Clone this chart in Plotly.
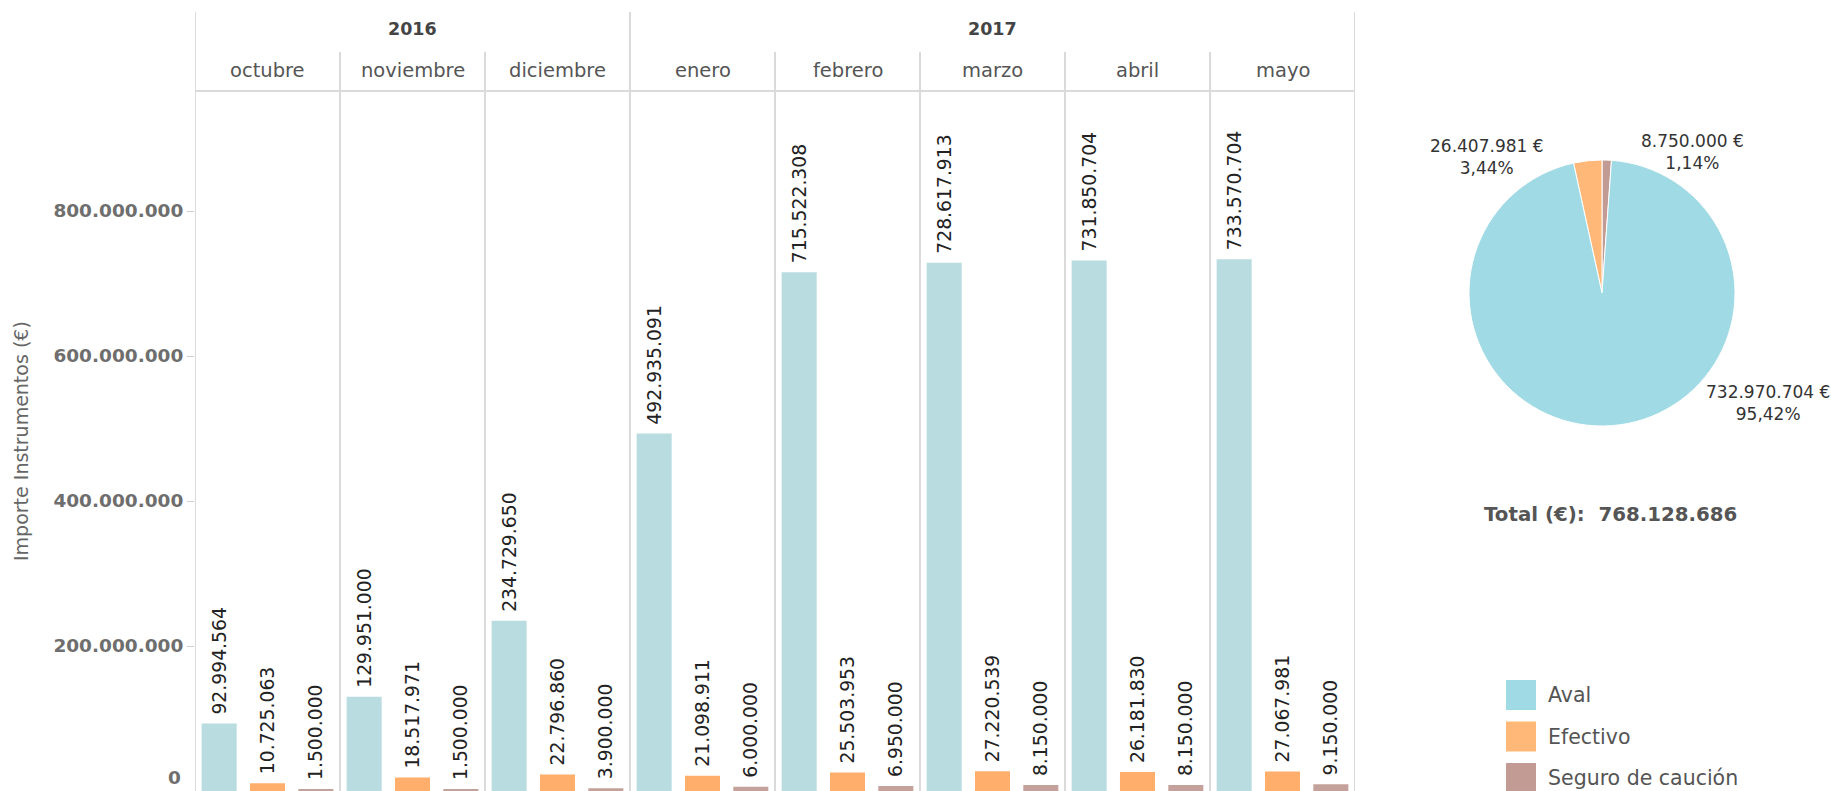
import plotly.graph_objects as go

# ---------------- data ----------------
months = ["octubre", "noviembre", "diciembre", "enero", "febrero", "marzo", "abril", "mayo"]
years = ["2016", "2016", "2016", "2017", "2017", "2017", "2017", "2017"]
series_names = ["Aval", "Efectivo", "Seguro de caución"]
aval = [92994564, 129951000, 234729650, 492935091, 715522308, 728617913, 731850704, 733570704]
efectivo = [10725063, 18517971, 22796860, 21098911, 25503953, 27220539, 26181830, 27067981]
seguro = [1500000, 1500000, 3900000, 6000000, 6950000, 8150000, 8150000, 9150000]
y_ticks = [200000000, 400000000, 600000000, 800000000]

pie_labels = ["Seguro de caución", "Efectivo", "Aval"]
pie_values = [8750000, 26407981, 732970704]
total_value = 768128686

# ---------------- style ----------------
W, H = 1831, 791
FONT = "DejaVu Sans"
bar_colors = ["#b9dce0", "#ffae6c", "#c4a19a"]
pie_colors = {"Aval": "#a0dae4", "Efectivo": "#ffb877", "Seguro de caución": "#c29c94"}
line_col = "#dadada"

# pixel helpers (layout positions only)
def px(x):
    return x / W

def py(y):
    return (H - y) / H

plot_left, plot_right, plot_top, plot_bottom = 195, 1355, 91, 791
px_per_unit = 0.725e-6
y_top = (plot_bottom - plot_top) / px_per_unit

def fmt(v):
    return f"{v:,}".replace(",", ".")

fig = go.Figure()
for name, vals, col in zip(series_names, [aval, efectivo, seguro], bar_colors):
    fig.add_trace(go.Bar(
        x=months, y=vals, name=name, marker=dict(color=col, line=dict(width=0)),
        text=["\u00a0" + fmt(v) for v in vals], textposition="outside", textangle=-90,
        constraintext="none", cliponaxis=False,
        textfont=dict(family=FONT, size=18.8, color="#222222"),
        showlegend=False, hoverinfo="skip",
    ))

fig.add_trace(go.Pie(
    labels=pie_labels, values=pie_values, sort=False, direction="counterclockwise",
    rotation=0, textinfo="none", showlegend=False, hoverinfo="skip",
    marker=dict(colors=[pie_colors[l] for l in pie_labels], line=dict(color="white", width=1)),
    domain=dict(x=[px(1469), px(1735)], y=[py(426), py(160)]),
))

fig.update_layout(
    width=W, height=H, template="none",
    margin=dict(l=0, r=0, t=0, b=0),
    paper_bgcolor="white", plot_bgcolor="white",
    separators=",.",
    barmode="group", bargap=0.0, bargroupgap=0.275,
    showlegend=False,
    xaxis=dict(domain=[px(plot_left), px(plot_right)], range=[-0.5, len(months) - 0.5],
               showticklabels=False, showgrid=False, zeroline=False, showline=False,
               ticks="", automargin=False),
    yaxis=dict(domain=[0, py(plot_top)], range=[0, y_top], tickvals=y_ticks,
               tickformat=",d", showgrid=False, zeroline=False, showline=False,
               ticks="outside", ticklen=7, tickcolor="#d0d0d0", tickwidth=1,
               tickfont=dict(family=FONT, size=18.5, color="#6e6e6e", weight="bold"),
               automargin=False),
    font=dict(family=FONT),
)

shapes = []
annotations = []

def ann(**kw):
    kw.setdefault("showarrow", False)
    kw.setdefault("xanchor", "center")
    kw.setdefault("yanchor", "middle")
    annotations.append(kw)

# separators
for i in range(len(months) + 1):
    xb = i - 0.5
    year_boundary = (i == 0 or i == len(months) or years[i] != years[i - 1])
    top = py(12) if year_boundary else py(52)
    shapes.append(dict(type="line", xref="x", yref="paper", x0=xb, x1=xb, y0=0, y1=top,
                       line=dict(color=line_col, width=2)))
shapes.append(dict(type="line", xref="x", yref="paper", x0=-0.5, x1=len(months) - 0.5,
                   y0=py(plot_top), y1=py(plot_top), line=dict(color=line_col, width=2)))

# header labels
for i, m in enumerate(months):
    ann(x=i, y=py(70), xref="x", yref="paper", text=m,
        font=dict(family=FONT, size=19.5, color="#555555"))
for yv in dict.fromkeys(years):
    idx = [i for i, y in enumerate(years) if y == yv]
    ann(x=sum(idx) / len(idx), y=py(29), xref="x", yref="paper", text=yv,
        font=dict(family=FONT, size=17.5, color="#444444", weight="bold"))

# zero label (shifted up as in reference)
ann(x=px(183), y=py(777), xref="paper", yref="paper", text="0", xanchor="right",
    font=dict(family=FONT, size=18.5, color="#6e6e6e", weight="bold"))

# y title
ann(x=px(21), y=py(441), xref="paper", yref="paper", text="Importe Instrumentos (€)",
    textangle=-90, font=dict(family=FONT, size=19, color="#666666"))

# pie labels
pie_label_pos = {"Efectivo": (1487, 157), "Seguro de caución": (1692, 152), "Aval": (1768, 403)}
for lab, val in zip(pie_labels, pie_values):
    pct = f"{val / total_value * 100:.2f}".replace(".", ",") + "%"
    xx, yy = pie_label_pos[lab]
    ann(x=px(xx), y=py(yy), xref="paper", yref="paper",
        text=f"{fmt(val)} €<br>{pct}", align="center",
        font=dict(family=FONT, size=17, color="#333333"))

# total
ann(x=px(1610), y=py(514), xref="paper", yref="paper",
    text=f"Total (€):\u00a0 {fmt(total_value)}",
    font=dict(family=FONT, size=19.8, color="#555555", weight="bold"))

# legend (manual)
for k, name in enumerate(series_names):
    cy = 695 + k * 41.5
    shapes.append(dict(type="rect", xref="paper", yref="paper", x0=px(1506), x1=px(1536),
                       y0=py(cy + 15), y1=py(cy - 15), fillcolor=pie_colors[name], line=dict(width=0)))
    ann(x=px(1546), y=py(cy), xref="paper", yref="paper", text=name, xanchor="left",
        font=dict(family=FONT, size=20.5, color="#555555"))

fig.update_layout(shapes=shapes, annotations=annotations)
fig.write_html("out.html", config={"displayModeBar": False},
               post_script="document.body.style.margin='0';document.body.style.overflow='hidden';")
